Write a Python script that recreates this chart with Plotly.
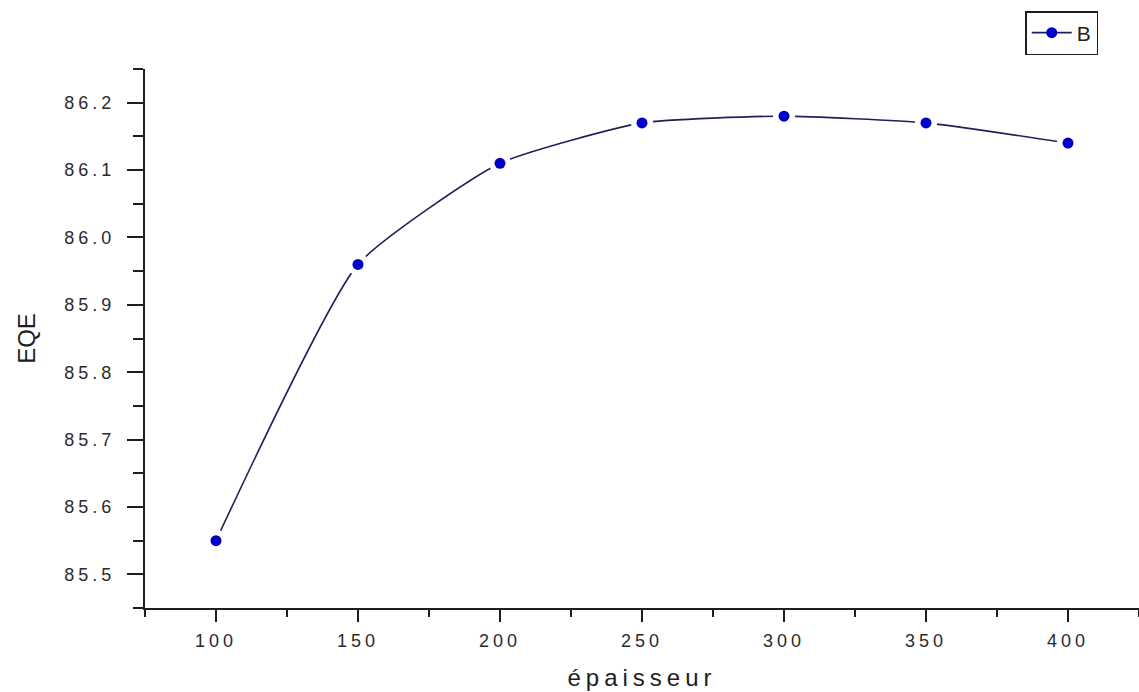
import plotly.graph_objects as go

# EQE as a function of layer thickness
epaisseur = [100, 150, 200, 250, 300, 350, 400]
eqe = [85.55, 85.96, 86.11, 86.17, 86.18, 86.17, 86.14]
series_name = "B"

x_tickvals = [100, 150, 200, 250, 300, 350, 400]
y_tickvals = [85.5, 85.6, 85.7, 85.8, 85.9, 86.0, 86.1, 86.2]

LINE_COLOR = "#20205a"
MARKER_COLOR = "#0000c8"
AXIS_COLOR = "#1e1e1e"
FONT = "Liberation Sans, Arial, sans-serif"

fig = go.Figure()

# connecting curve (also the legend entry)
fig.add_trace(go.Scatter(
    x=epaisseur, y=eqe, name=series_name, mode="lines+markers",
    line=dict(color=LINE_COLOR, width=1.6, shape="spline", smoothing=0.5),
    marker=dict(color=MARKER_COLOR, size=11, symbol="circle"),
    showlegend=True,
))
# white halo that opens a small gap in the curve around each point
fig.add_trace(go.Scatter(
    x=epaisseur, y=eqe, mode="markers",
    marker=dict(color="white", size=22, symbol="circle"),
    showlegend=False, hoverinfo="skip",
))
# data points
fig.add_trace(go.Scatter(
    x=epaisseur, y=eqe, mode="markers",
    marker=dict(color=MARKER_COLOR, size=11, symbol="circle"),
    showlegend=False,
))

fig.update_layout(
    width=1139, height=692,
    margin=dict(l=145, r=0, t=69, b=84),
    paper_bgcolor="white", plot_bgcolor="white",
    font=dict(family=FONT, color="#2b2b2b"),
    showlegend=True,
    legend=dict(
        x=0.959, y=1.1076, xanchor="right", yanchor="top",
        bgcolor="white", bordercolor=AXIS_COLOR, borderwidth=1.5,
        font=dict(family=FONT, size=21, color="#222222"),
        itemwidth=40,
    ),
)

fig.update_xaxes(
    range=[75, 425], tickvals=x_tickvals,
    showgrid=False, zeroline=False,
    showline=True, linecolor=AXIS_COLOR, linewidth=2,
    ticks="outside", ticklen=12, tickwidth=2, tickcolor=AXIS_COLOR,
    minor=dict(dtick=25, tick0=75, ticks="outside", ticklen=7, tickwidth=2, tickcolor=AXIS_COLOR),
    tickfont=dict(family=FONT, size=18, color="#2b2b2b"),
    ticklabelstandoff=3,
    title=dict(text="épaisseur", font=dict(family=FONT, size=24, color="#1e1e1e"), standoff=20),
)
fig.update_yaxes(
    range=[85.45, 86.25], tickvals=y_tickvals, tickformat=".1f",
    showgrid=False, zeroline=False,
    showline=True, linecolor=AXIS_COLOR, linewidth=2,
    ticks="outside", ticklen=16, tickwidth=2, tickcolor=AXIS_COLOR,
    minor=dict(dtick=0.05, tick0=85.45, ticks="outside", ticklen=10, tickwidth=2, tickcolor=AXIS_COLOR),
    tickfont=dict(family=FONT, size=18, color="#2b2b2b"),
    ticklabelstandoff=8,
    title=dict(text="EQE", font=dict(family=FONT, size=24, color="#1e1e1e"), standoff=38),
)

# widen the horizontal text a little, the way the tick labels are spaced
spacing_js = """
var gd = document.getElementById('{plot_id}');
function spaceText() {
  gd.querySelectorAll('.xtick text, .ytick text').forEach(function (t) { t.style.letterSpacing = '4px'; });
  gd.querySelectorAll('.g-xtitle text').forEach(function (t) { t.style.letterSpacing = '5px'; });
}
spaceText();
if (gd.on) { gd.on('plotly_afterplot', spaceText); }
"""

fig.write_html("out.html", post_script=spacing_js)
